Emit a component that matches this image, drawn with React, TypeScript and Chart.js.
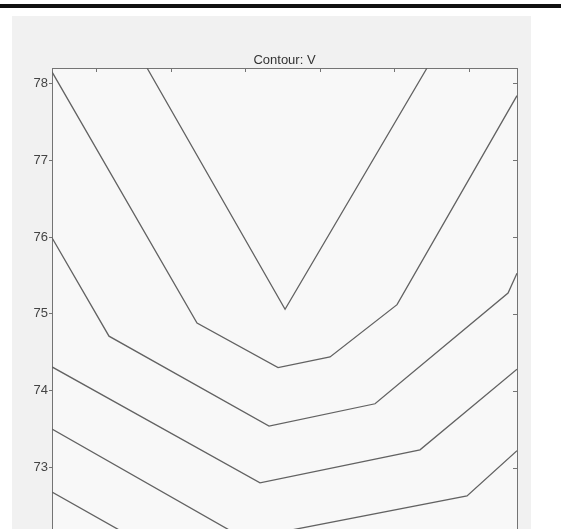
import React, { useEffect, useRef } from "react";
import { Chart, registerables } from "chart.js";

Chart.register(...registerables);

// Axis ranges and tick values
const X_MIN = -0.59;
const X_MAX = 5.643;
const Y_MIN = 72.2;
const Y_MAX = 78.2;
const xTickValues = [0, 1, 2, 3, 4, 5];
const yTickValues = [73, 74, 75, 76, 77, 78];

// Contour polylines of V (x and y vertex values)
const contourAX = [0.684, 2.534, 4.437];
const contourAY = [78.2, 75.06, 78.2];

const contourBX = [-0.59, 1.354, 2.44, 3.137, 4.035, 5.643];
const contourBY = [78.15, 74.88, 74.3, 74.44, 75.12, 77.84];

const contourCX = [-0.59, 0.174, 2.319, 3.74, 5.523, 5.643];
const contourCY = [75.99, 74.71, 73.54, 73.83, 75.27, 75.53];

const contourDX = [-0.59, 2.198, 4.343, 5.643];
const contourDY = [74.31, 72.8, 73.23, 74.28];

const contourEX = [-0.59, 1.997, 4.973, 5.643];
const contourEY = [73.5, 72.07, 72.63, 73.22];

const contourFX = [-0.59, 1.878, 5.643];
const contourFY = [72.68, 71.33, 72.06];

const contours = [
  [contourAX, contourAY],
  [contourBX, contourBY],
  [contourCX, contourCY],
  [contourDX, contourDY],
  [contourEX, contourEY],
  [contourFX, contourFY],
];

const AXIS_COLOR = "#747474";
const LINE_COLOR = "#626262";
const FONT = "'Liberation Sans', Arial, Helvetica, sans-serif";

// Paper background, the rule across the top and inward tick marks
const paperPlugin = {
  id: "paper",
  beforeDraw(chart: any) {
    const { ctx, width, height, chartArea } = chart;
    ctx.save();
    ctx.fillStyle = "#ffffff";
    ctx.fillRect(0, 0, width, height);
    ctx.fillStyle = "#f1f1f1";
    ctx.fillRect(12, 16, 519, height - 16);
    ctx.fillStyle = "#f8f8f8";
    ctx.fillRect(
      chartArea.left,
      chartArea.top,
      chartArea.right - chartArea.left,
      chartArea.bottom - chartArea.top
    );
    ctx.fillStyle = "#111111";
    ctx.fillRect(0, 4, width, 4);
    ctx.restore();
  },
  afterDraw(chart: any) {
    const { ctx, chartArea, scales } = chart;
    ctx.save();
    ctx.strokeStyle = AXIS_COLOR;
    ctx.lineWidth = 1;
    ctx.beginPath();
    for (const v of xTickValues) {
      const px = Math.round(scales.x.getPixelForValue(v)) + 0.5;
      ctx.moveTo(px, chartArea.top);
      ctx.lineTo(px, chartArea.top + 4);
    }
    for (const v of yTickValues) {
      const py = Math.round(scales.y2.getPixelForValue(v)) + 0.5;
      ctx.moveTo(chartArea.right, py);
      ctx.lineTo(chartArea.right - 4, py);
    }
    ctx.stroke();
    ctx.restore();
  },
};

// The plot runs past the lower edge of the canvas, so no label padding there
const noVerticalPadding = (s: any) => {
  s.paddingTop = 0;
  s.paddingBottom = 0;
};

export default function App() {
  const canvasRef = useRef<HTMLCanvasElement | null>(null);

  useEffect(() => {
    if (!canvasRef.current) return;
    const chart = new Chart(canvasRef.current, {
      type: "scatter",
      data: {
        datasets: contours.map(([xs, ys]) => ({
          data: xs.map((x, i) => ({ x, y: ys[i] })),
          showLine: true,
          borderColor: LINE_COLOR,
          borderWidth: 1.3,
          pointRadius: 0,
          tension: 0,
          fill: false,
        })),
      },
      options: {
        animation: false,
        responsive: false,
        layout: { padding: 0 },
        plugins: {
          legend: { display: false },
          tooltip: { enabled: false },
          title: {
            display: true,
            text: "Contour: V",
            fullSize: false,
            color: "#333333",
            font: { family: FONT, size: 13, weight: "normal", lineHeight: 1 },
            padding: { top: 54, bottom: 1 },
          },
        },
        scales: {
          x: {
            type: "linear",
            position: "top",
            min: X_MIN,
            max: X_MAX,
            afterBuildTicks: (s: any) => {
              s.ticks = xTickValues.map((value) => ({ value }));
            },
            afterFit: (s: any) => {
              s.height = 0;
              s.paddingLeft = 0;
              s.paddingRight = 0;
            },
            ticks: { display: false },
            grid: { drawOnChartArea: false, drawTicks: false },
            border: { display: true, color: AXIS_COLOR, width: 1 },
          },
          y: {
            type: "linear",
            position: "left",
            min: Y_MIN,
            max: Y_MAX,
            afterBuildTicks: (s: any) => {
              s.ticks = yTickValues.map((value) => ({ value }));
            },
            afterFit: (s: any) => {
              s.width = 52;
              noVerticalPadding(s);
            },
            ticks: {
              color: "#444444",
              font: { family: FONT, size: 13 },
              padding: 1,
            },
            grid: {
              drawOnChartArea: false,
              tickLength: 3,
              color: AXIS_COLOR,
            },
            border: { display: true, color: AXIS_COLOR, width: 1 },
          },
          y2: {
            type: "linear",
            position: "right",
            min: Y_MIN,
            max: Y_MAX,
            afterBuildTicks: (s: any) => {
              s.ticks = yTickValues.map((value) => ({ value }));
            },
            afterFit: (s: any) => {
              s.width = 44;
              noVerticalPadding(s);
            },
            ticks: { display: false },
            grid: { drawOnChartArea: false, drawTicks: false },
            border: { display: true, color: AXIS_COLOR, width: 1 },
          },
        },
      },
      plugins: [paperPlugin],
    } as any);
    return () => chart.destroy();
  }, []);

  return (
    <div style={{ position: "fixed", left: 0, top: 0, width: 561, height: 529 }}>
      <canvas
        ref={canvasRef}
        width={561}
        height={529}
        style={{ display: "block", width: 561, height: 529 }}
      />
    </div>
  );
}
